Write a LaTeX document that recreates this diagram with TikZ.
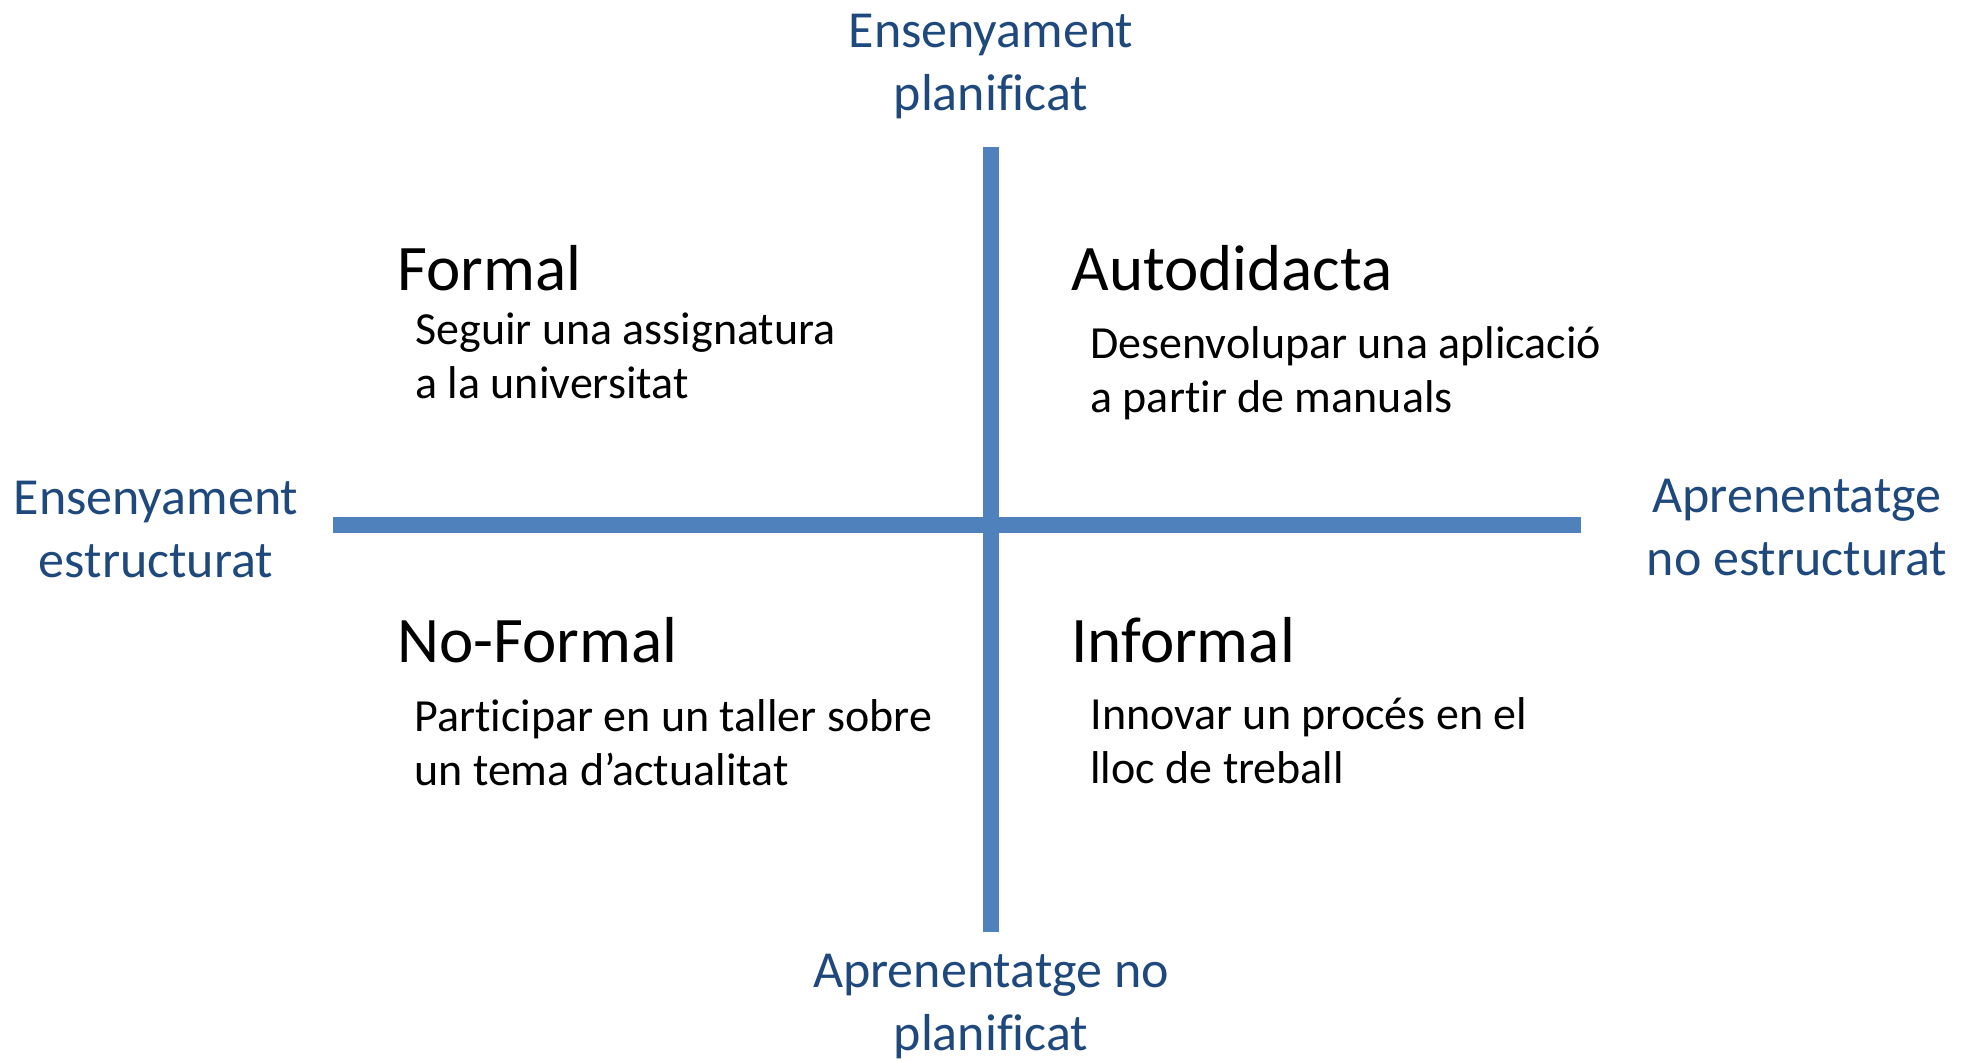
\documentclass[tikz,border=0pt]{standalone}
\usepackage{fontspec}
\setmainfont{Carlito}[Ligatures=CommonOff]
\definecolor{axisblue}{HTML}{4F81BD}
\definecolor{labelblue}{HTML}{1F497D}

\begin{document}
\begin{tikzpicture}[x=0.5pt, y=-0.5pt,
    axislabel/.style={text=labelblue, align=center, anchor=base, inner sep=0pt,
        font=\fontsize{26pt}{31.5pt}\selectfont},
    quadhead/.style={anchor=base west, inner sep=0pt, font=\fontsize{32.5pt}{38pt}\selectfont},
    quadtext/.style={anchor=base west, align=left, inner sep=0pt,
        font=\fontsize{23pt}{27pt}\selectfont}]
    \useasboundingbox (0,0) rectangle (1969,1061);

    % Axes
    \coordinate (top) at (991,147);
    \coordinate (bottom) at (991,932);
    \coordinate (left) at (333,525);
    \coordinate (right) at (1581,525);
    \draw[axisblue, line width=8pt] (left) -- (right);
    \draw[axisblue, line width=8pt] (top) -- (bottom);

    % Axis labels (base = last line)
    \node[axislabel] (planned) at (991,110) {Ensenyament\\planificat};
    \node[axislabel] (unplanned) at (991,1050) {Aprenentatge no\\planificat};
    \node[axislabel] (structured) at (156,577) {Ensenyament\\estructurat};
    \node[axislabel] (unstructured) at (1797,575) {Aprenentatge\\no estructurat};

    % Quadrants
    \node[quadhead] (formal) at (397,290) {Formal};
    \node[quadtext] (formaltext) at (415,398) {Seguir una assignatura\\a la universitat};
    \node[quadhead] (selftaught) at (1071,290) {Autodidacta};
    \node[quadtext] (selftaughttext) at (1090,412) {Desenvolupar una aplicació\\a partir de manuals};
    \node[quadhead] (nonformal) at (397,662) {No-Formal};
    \node[quadtext] (nonformaltext) at (414,785) {Participar en un taller sobre\\un tema d’actualitat};
    \node[quadhead] (informal) at (1071,662) {Informal};
    \node[quadtext] (informaltext) at (1090,783) {Innovar un procés en el\\lloc de treball};
\end{tikzpicture}
\end{document}
